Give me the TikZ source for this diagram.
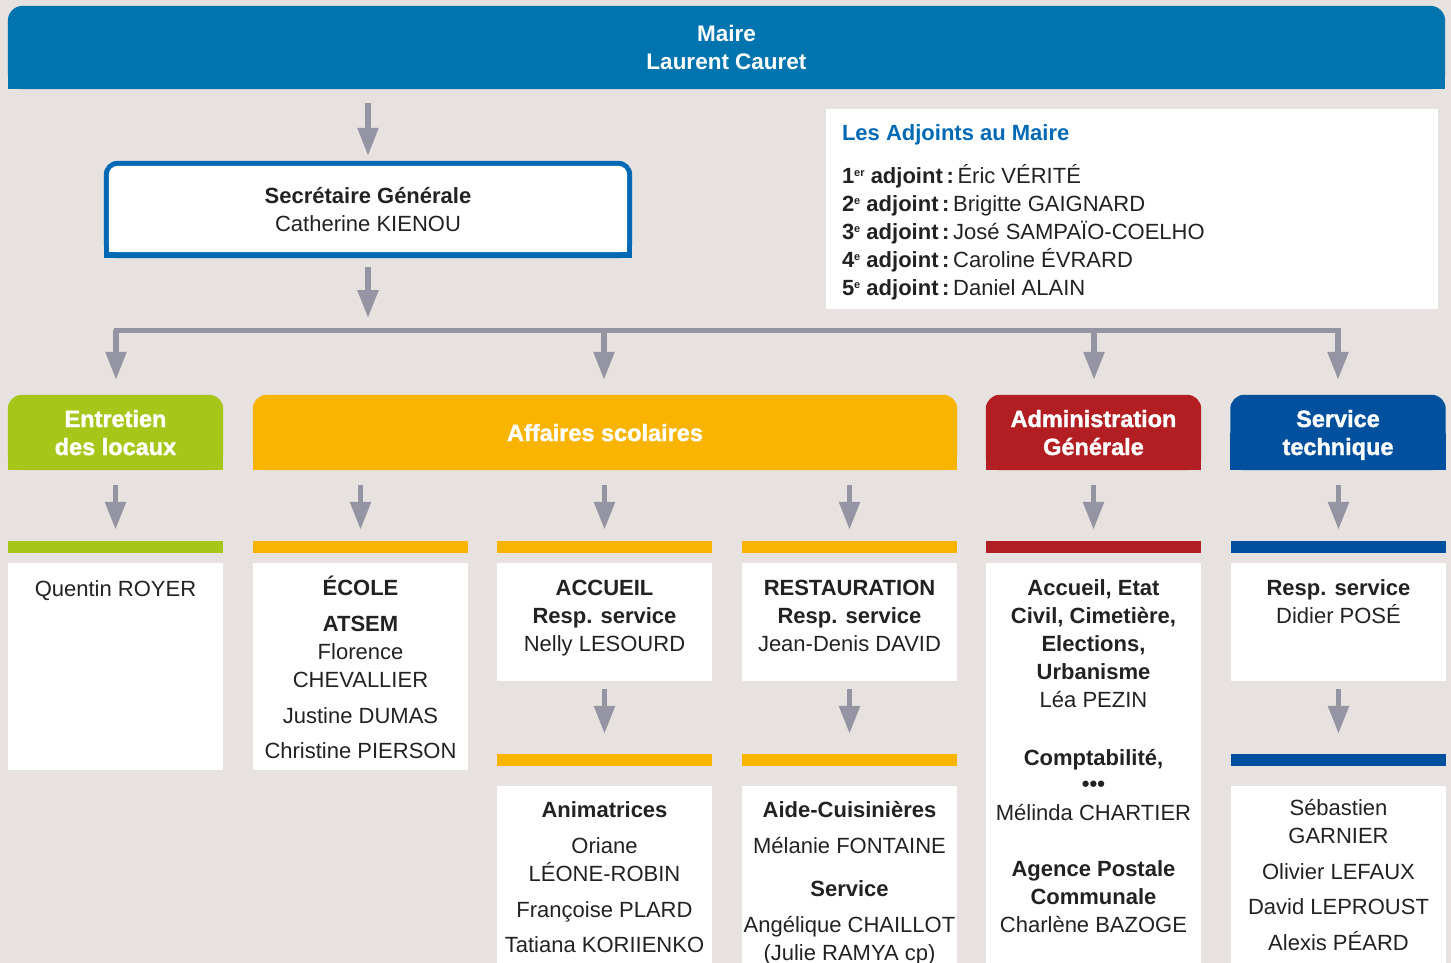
\documentclass[tikz,border=0pt]{standalone}
\usepackage{fontspec}
\setmainfont{Liberation Sans}
\newfontfamily\heavyfont{Liberation Sans}[BoldFeatures={FakeBold=1.5}]
\usetikzlibrary{arrows.meta,positioning,backgrounds}

\definecolor{pagebg}{HTML}{E7E2DF}
\definecolor{maireblue}{HTML}{0074AF}
\definecolor{secblue}{HTML}{0069B4}
\definecolor{arrowgrey}{HTML}{9594A3}
\definecolor{entgreen}{HTML}{A6C71A}
\definecolor{scolorange}{HTML}{F9B400}
\definecolor{admred}{HTML}{B31E22}
\definecolor{techblue}{HTML}{00509E}
\definecolor{inkgrey}{HTML}{222222}

\newcommand\capstrut{\rule{0pt}{20pt}}
\newcommand\ordsup[1]{\raisebox{7pt}{\fontsize{11}{11}\selectfont #1}}
\newcommand\topfill[3]{%
  \fill[#1, rounded corners=#3] (#2.south west) rectangle (#2.north east);
  \fill[#1] (#2.south west) rectangle (#2.east);}

\begin{document}
\begin{tikzpicture}[x=1pt, y=-1pt,
    arr/.style={draw=arrowgrey, line width=5.5pt, -{Triangle[width=20pt,length=28pt]}},
    hdr/.style={text=white, font=\fontsize{23.5}{28}\selectfont\heavyfont\bfseries, align=center,
      minimum width=215pt, minimum height=75pt, inner sep=0pt, text depth=0pt},
    card/.style={fill=white, minimum width=215pt, inner sep=0pt},
    strip/.style={minimum width=215pt, minimum height=12pt, inner sep=0pt},
    txt/.style={text=inkgrey, font=\fontsize{22}{28}\selectfont, align=center, anchor=north, inner sep=0pt}]
    \useasboundingbox (0,0) rectangle (1451,963);

    % Maire and secretary
    \node[hdr, font=\fontsize{22.5}{28}\selectfont\bfseries, minimum width=1437pt, minimum height=83pt] (maire) at (726.5,47.5) {Maire\\Laurent Cauret};
    \node[txt, anchor=center, minimum width=528pt, minimum height=97pt] (sec) at (368,209.5) {\textbf{Secrétaire Générale}\\Catherine KIENOU};

    % Adjoints
    \node[fill=white, minimum width=612pt, minimum height=200pt, inner sep=0pt] (adj) at (1132,209) {};
    \node[txt, anchor=north west, align=left] (adjtxt) at ([xshift=16pt, yshift=-11pt]adj.north west) {%
      \capstrut{\color{secblue}\bfseries Les Adjoints au Maire}\\[15pt]
      \textbf{1\ordsup{er} adjoint\,:}\,Éric VÉRITÉ\\
      \textbf{2\ordsup{e} adjoint\,:}\,Brigitte GAIGNARD\\
      \textbf{3\ordsup{e} adjoint\,:}\,José SAMPAÏO-COELHO\\
      \textbf{4\ordsup{e} adjoint\,:}\,Caroline ÉVRARD\\
      \textbf{5\ordsup{e} adjoint\,:}\,Daniel ALAIN};

    % Services
    \node[hdr] (entretien) at (115.5,432.5) {Entretien\\des locaux};
    \node[hdr, minimum width=704pt] (scol) at (605,432.5) {Affaires scolaires};
    \node[hdr] (admin) at (1093.5,432.5) {Administration\\Générale};
    \node[hdr] (tech) at (1338,432.5) {Service\\technique};

    % Colour strips
    \node[strip, fill=entgreen] (s1) at (115.5,547) {};
    \node[strip, fill=scolorange] (s2) at (360.5,547) {};
    \node[strip, fill=scolorange] (s3) at (604.5,547) {};
    \node[strip, fill=scolorange] (s4) at (849.5,547) {};
    \node[strip, fill=admred] (s5) at (1093.5,547) {};
    \node[strip, fill=techblue] (s6) at (1338.5,547) {};
    \node[strip, fill=scolorange] (t3) at (604.5,760) {};
    \node[strip, fill=scolorange] (t4) at (849.5,760) {};
    \node[strip, fill=techblue] (t6) at (1338.5,760) {};

    % Cards
    \node[card, minimum height=207pt] (c1) at (115.5,666.5) {};
    \node[card, minimum height=207pt] (c2) at (360.5,666.5) {};
    \node[card, minimum height=118pt] (c3) at (604.5,622) {};
    \node[card, minimum height=118pt] (c4) at (849.5,622) {};
    \node[card, minimum height=400pt] (c5) at (1093.5,763) {};
    \node[card, minimum height=118pt] (c6) at (1338.5,622) {};
    \node[card, minimum height=177pt] (d3) at (604.5,874.5) {};
    \node[card, minimum height=177pt] (d4) at (849.5,874.5) {};
    \node[card, minimum height=177pt] (d6) at (1338.5,874.5) {};

    % Card texts
    \node[txt] (c1txt) at ([yshift=-13pt]c1.north) {\capstrut Quentin ROYER};
    \node[txt] (c2txt) at ([yshift=-12pt]c2.north) {\capstrut\textbf{ÉCOLE}\\[8pt]\textbf{ATSEM}\\Florence\\CHEVALLIER\\[8pt]Justine DUMAS\\[7pt]Christine PIERSON};
    \node[txt] (c3txt) at ([yshift=-12pt]c3.north) {\capstrut\textbf{ACCUEIL}\\\textbf{Resp. service}\\Nelly LESOURD};
    \node[txt] (c4txt) at ([yshift=-12pt]c4.north) {\capstrut\textbf{RESTAURATION}\\\textbf{Resp. service}\\Jean-Denis DAVID};
    \node[txt] (c5txt) at ([yshift=-12pt]c5.north) {\capstrut\textbf{Accueil, Etat}\\\textbf{Civil, Cimetière,}\\\textbf{Elections,}\\\textbf{Urbanisme}\\Léa PEZIN\\[30pt]%
      \textbf{Comptabilité,}\\[-2pt]\textbf{•••}\\[1pt]Mélinda CHARTIER\\[28pt]%
      \textbf{Agence Postale}\\\textbf{Communale}\\Charlène BAZOGE};
    \node[txt] (c6txt) at ([yshift=-12pt]c6.north) {\capstrut\textbf{Resp. service}\\Didier POSÉ};
    \node[txt] (d3txt) at ([yshift=-11pt]d3.north) {\capstrut\textbf{Animatrices}\\[8pt]Oriane\\LÉONE-ROBIN\\[8pt]Françoise PLARD\\[7pt]Tatiana KORIIENKO};
    \node[txt] (d4txt) at ([yshift=-11pt]d4.north) {\capstrut\textbf{Aide-Cuisinières}\\[8pt]Mélanie FONTAINE\\[15pt]\textbf{Service}\\[8pt]Angélique CHAILLOT\\(Julie RAMYA cp)};
    \node[txt] (d6txt) at ([yshift=-9pt]d6.north) {\capstrut Sébastien\\GARNIER\\[8pt]Olivier LEFAUX\\[7pt]David LEPROUST\\[8pt]Alexis PÉARD};

    % Draw the arrows
    \draw[arr, shorten <=14pt, shorten >=5pt] (maire.south -| sec.north) -- (sec.north);
    \coordinate (split) at (368,330);
    \draw[arr, shorten <=9pt, shorten >=12pt] (sec.south) -- (split);
    \coordinate (b1) at (116,330);
    \coordinate (b2) at (604,330);
    \coordinate (b3) at (1094,330);
    \coordinate (b4) at (1338,330);
    \draw[draw=arrowgrey, line width=5pt, line cap=rect] (b1) -- (b4);
    \foreach \b/\h in {b1/entretien, b2/scol, b3/admin, b4/tech}
      \draw[arr, shorten >=15pt] (\b) -- (\b |- \h.north);
    \foreach \s/\h in {s1/entretien, s2/scol, s3/scol, s4/scol, s5/admin, s6/tech}
      \draw[arr, shorten <=15pt, shorten >=11pt] (\s |- \h.south) -- (\s.north);
    \foreach \c/\t in {c3/t3, c4/t4, c6/t6}
      \draw[arr, shorten <=8pt, shorten >=20pt] (\c.south) -- (\t.north);

    % Backgrounds with rounded tops
    \begin{scope}[on background layer]
      \fill[pagebg] (0,0) rectangle (1451,963);
      \topfill{maireblue}{maire}{15pt}
      \topfill{secblue}{sec}{14pt}
      \fill[white, rounded corners=9pt] ([shift={(5pt,-5pt)}]sec.north west) rectangle ([shift={(-5pt,6pt)}]sec.south east);
      \fill[white] ([shift={(5pt,6pt)}]sec.south west) rectangle ([xshift=-5pt]sec.east);
      \topfill{entgreen}{entretien}{14pt}
      \topfill{scolorange}{scol}{14pt}
      \topfill{admred}{admin}{14pt}
      \topfill{techblue}{tech}{14pt}
    \end{scope}
\end{tikzpicture}
\end{document}
